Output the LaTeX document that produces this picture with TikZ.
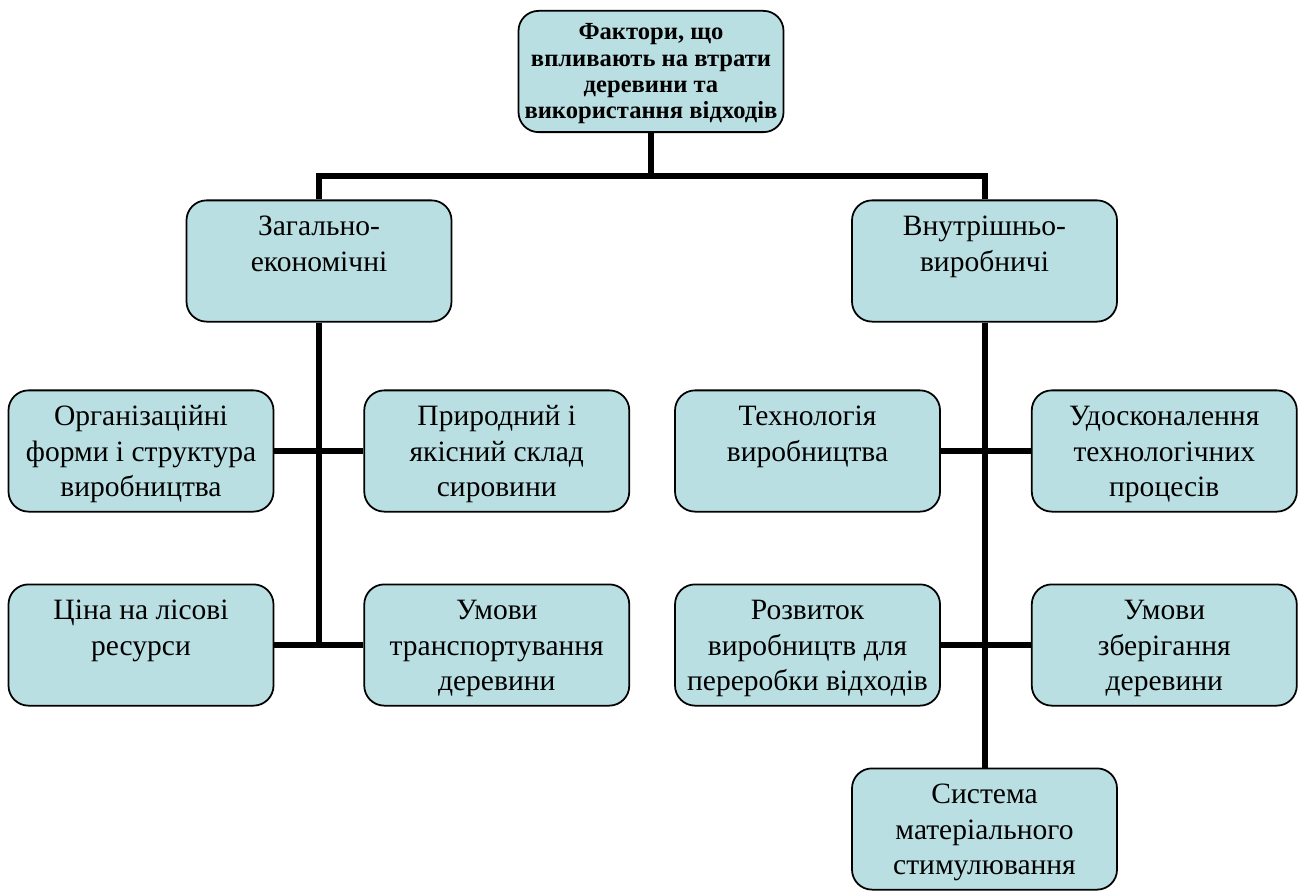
\documentclass[tikz,border=0pt]{standalone}
\usepackage{fontspec}
\setmainfont{Liberation Serif}
\usetikzlibrary{positioning}
\usetikzlibrary{calc}
\definecolor{boxblue}{RGB}{186,223,227}

\newcommand{\factortext}[1]{\parbox[t][57pt][t]{5.3cm}{\centering\strut #1}}

\tikzset{
	factor/.style = {draw=black, line width=1pt, fill=boxblue,
		rounded corners=0.4cm, inner xsep=0pt, inner ysep=6pt,
		font=\fontsize{16.8}{20.2}\selectfont},
	headfactor/.style = {factor, font=\fontsize{14}{15}\selectfont\bfseries},
	link/.style = {line width=3.4pt}
}

\begin{document}
\begin{tikzpicture}
	\useasboundingbox (0,0) rectangle (25.96,-17.9);
	\node (top) [headfactor] at (13.02,-1.43)
	{\factortext{Фактори, що\\ впливають на втрати\\ деревини та\\ використання відходів}};
	\node (zag) [factor] at (6.38,-5.22) {\factortext{Загально-\\ економічні}};
	\node (vnut) [factor] at (19.69,-5.22) {\factortext{Внутрішньо-\\ виробничі}};
	% first row
	\node (org) [factor] at (2.82,-9.02) {\factortext{Організаційні\\ форми і структура\\ виробництва}};
	\node (prir) [factor, right = 1.78cm of org] {\factortext{Природний і\\ якісний склад\\ сировини}};
	\node (tech) [factor, right = 0.88cm of prir] {\factortext{Технологія\\ виробництва}};
	\node (udos) [factor, right = 1.8cm of tech] {\factortext{Удосконалення\\ технологічних\\ процесів}};
	% second row
	\node (cena) [factor, below = 1.42cm of org] {\factortext{Ціна на лісові\\ ресурси}};
	\node (umtr) [factor, below = 1.42cm of prir] {\factortext{Умови\\ транспортування\\ деревини}};
	\node (rozv) [factor, below = 1.42cm of tech] {\factortext{Розвиток\\ виробництв для\\ переробки відходів}};
	\node (zber) [factor, below = 1.42cm of udos] {\factortext{Умови\\ зберігання\\ деревини}};
	\node (sys) [factor] at (19.69,-16.58) {\factortext{Система\\ матеріального\\ стимулювання}};
	% connectors
	\coordinate (bus) at ($(top.south)+(0,-0.86)$);
	\draw [link] (top.south) -- (bus);
	\draw [link] (bus) -| (zag.north);
	\draw [link] (bus) -| (vnut.north);
	\draw [link] (zag.south) -- (zag.south |- cena.east);
	\draw [link] (org.east) -- (prir.west);
	\draw [link] (cena.east) -- (umtr.west);
	\draw [link] (vnut.south) -- (sys.north);
	\draw [link] (tech.east) -- (udos.west);
	\draw [link] (rozv.east) -- (zber.west);
\end{tikzpicture}
\end{document}
